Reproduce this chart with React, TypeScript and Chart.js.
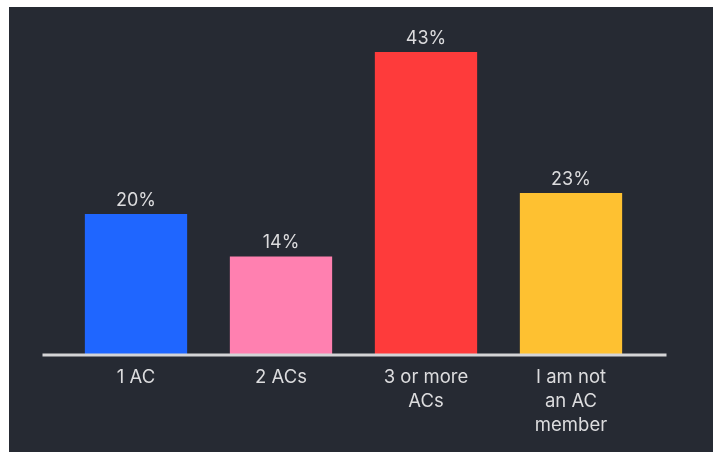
import React, { useEffect, useRef } from "react";
import { Chart, registerables } from "chart.js";

Chart.register(...registerables);

const categories: (string | string[])[] = ["1 AC", "2 ACs", ["3 or more", "ACs"], ["I am not", "an AC", "member"]];
const values: number[] = [20, 14, 43, 23];
const valueLabels: string[] = ["20%", "14%", "43%", "23%"];
const barColors: string[] = ["#1f66ff", "#ff80b0", "#fe3b3b", "#fec131"];

const BG = "#262a33";
const TEXT = "#dcdcde";
const FONT = "Inter, 'Noto Sans', sans-serif";

const extrasPlugin = {
  id: "extras",
  afterDatasetsDraw(chart: any) {
    const { ctx, chartArea } = chart;
    const meta = chart.getDatasetMeta(0);
    ctx.save();
    // baseline
    ctx.strokeStyle = "#d4d4d6";
    ctx.lineWidth = 3;
    ctx.beginPath();
    ctx.moveTo(chartArea.left - 21, chartArea.bottom);
    ctx.lineTo(chartArea.right + 23, chartArea.bottom);
    ctx.stroke();
    // value labels
    ctx.fillStyle = TEXT;
    ctx.font = `18px ${FONT}`;
    ctx.textAlign = "center";
    ctx.textBaseline = "alphabetic";
    meta.data.forEach((bar: any, i: number) => {
      ctx.fillText(valueLabels[i], bar.x, bar.y - 8);
    });
    ctx.restore();
  },
};

export default function App() {
  const ref = useRef<HTMLCanvasElement | null>(null);
  useEffect(() => {
    document.body.style.margin = "0";
    const chart = new Chart(ref.current!, {
      type: "bar",
      data: {
        labels: categories as any,
        datasets: [
          {
            data: values,
            backgroundColor: barColors,
            borderWidth: 0,
            barPercentage: 0.85,
            categoryPercentage: 0.83,
          },
        ],
      },
      options: {
        responsive: false,
        animation: false,
        layout: { padding: { left: 54.5, right: 69.5, top: 31, bottom: 0 } },
        plugins: { legend: { display: false }, tooltip: { enabled: false } },
        scales: {
          x: {
            grid: { display: false, drawTicks: false },
            border: { display: false },
            ticks: {
              color: TEXT,
              font: { family: FONT, size: 18.5, lineHeight: 1.3 },
              padding: 10,
              maxRotation: 0,
              autoSkip: false,
            },
            afterFit: (s: any) => {
              s.height = 97;
            },
          },
          y: {
            display: false,
            min: 0,
            max: 45,
          },
        },
      },
      plugins: [extrasPlugin],
    });
    return () => chart.destroy();
  }, []);
  return (
    <div
      style={{
        position: "absolute",
        left: 9,
        top: 7,
        width: 704,
        height: 445,
        background: BG,
      }}
    >
      <canvas ref={ref} width={704} height={445} style={{ display: "block" }} />
    </div>
  );
}
